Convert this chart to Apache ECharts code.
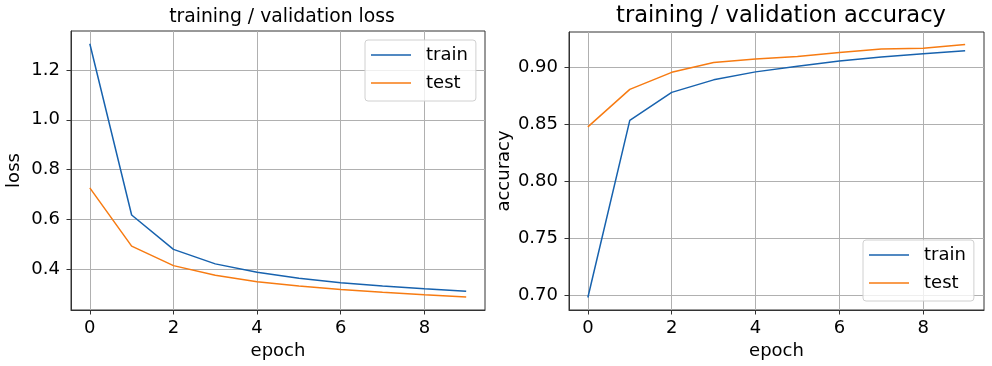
<!DOCTYPE html>
<html>
<head>
<meta charset="utf-8">
<script src="https://cdn.jsdelivr.net/npm/echarts@6/dist/echarts.min.js"></script>
<style>
html,body{margin:0;padding:0;background:#fff;}
#chart{width:992px;height:366px;}
</style>
</head>
<body>
<div id="chart"></div>
<script>
// ---- data ----
const epochs = [0, 1, 2, 3, 4, 5, 6, 7, 8, 9];
const lossTrain = [1.305, 0.618, 0.480, 0.422, 0.388, 0.364, 0.346, 0.333, 0.322, 0.312];
const lossTest  = [0.727, 0.493, 0.415, 0.376, 0.350, 0.333, 0.319, 0.308, 0.298, 0.289];
const accTrain  = [0.698, 0.8535, 0.878, 0.889, 0.896, 0.901, 0.9055, 0.909, 0.912, 0.9145];
const accTest   = [0.8477, 0.8806, 0.8956, 0.9043, 0.9073, 0.9095, 0.913, 0.916, 0.9168, 0.920];
const xTicks = [0, 2, 4, 6, 8];
const lossTicks = [0.4, 0.6, 0.8, 1.0, 1.2];
const accTicks = [0.70, 0.75, 0.80, 0.85, 0.90];
const legendNames = ['train', 'test'];
const titles = ['training / validation loss', 'training / validation accuracy'];

// ---- styles ----
const FONT = 'DejaVu Sans';
const BLUE = '#1762ae';
const ORANGE = '#f77b12';
const SPINE = '#333333';
const GRIDC = '#b0b0b0';
const FS = 18;

function pairs(xs, ys) { return xs.map((x, i) => [x, ys[i]]); }

function xAxisDef(gridIndex) {
  return {
    type: 'value', gridIndex: gridIndex, min: -0.45, max: 9.45,
    name: 'epoch', nameLocation: 'middle', nameGap: 31,
    nameTextStyle: { fontFamily: FONT, fontSize: FS, color: '#000' },
    axisLine: { show: true, onZero: false, lineStyle: { color: SPINE, width: 1 } },
    axisTick: { show: true, length: 4.5, customValues: xTicks, lineStyle: { color: SPINE, width: 1 } },
    axisLabel: { customValues: xTicks, margin: 9, fontFamily: FONT, fontSize: FS, color: '#000',
      formatter: v => String(Math.round(v)) },
    splitLine: { show: true, lineStyle: { color: GRIDC, width: 1 } }
  };
}
function yAxisDef(gridIndex, name, min, max, ticks, dec, gap) {
  return {
    type: 'value', gridIndex: gridIndex, min: min, max: max,
    name: name, nameLocation: 'middle', nameGap: gap, nameRotate: 90,
    nameTextStyle: { fontFamily: FONT, fontSize: FS, color: '#000' },
    axisLine: { show: true, onZero: false, lineStyle: { color: SPINE, width: 1 } },
    axisTick: { show: true, length: 4.5, customValues: ticks, lineStyle: { color: SPINE, width: 1 } },
    axisLabel: { customValues: ticks, margin: 11, fontFamily: FONT, fontSize: FS, color: '#000',
      formatter: v => v.toFixed(dec) },
    splitLine: { show: true, lineStyle: { color: GRIDC, width: 1 } }
  };
}
function lineSeries(name, color, xi, yi, data) {
  return {
    type: 'line', name: name, xAxisIndex: xi, yAxisIndex: yi, data: data,
    symbol: 'none', showSymbol: false, smooth: false,
    lineStyle: { color: color, width: 1.5 }, itemStyle: { color: color },
    emphasis: { disabled: true }
  };
}
function legendDef(left, top) {
  return {
    left: left, top: top, orient: 'vertical',
    data: legendNames,
    icon: 'rect', itemWidth: 40, itemHeight: 1.5, itemGap: 8,
    padding: [5, 8, 8, 6],
    backgroundColor: 'rgba(255,255,255,0.8)',
    borderColor: '#d0d0d0', borderWidth: 1, borderRadius: 3,
    textStyle: { fontFamily: FONT, fontSize: FS, color: '#000', lineHeight: 20, padding: [0, 0, 0, 10] },
    selectedMode: false
  };
}

const option = {
  animation: false,
  backgroundColor: '#ffffff',
  title: [
    { text: titles[0], left: 277, top: 3, textAlign: 'center',
      textStyle: { fontFamily: FONT, fontSize: 18.8, fontWeight: 'normal', color: '#000' } },
    { text: titles[1], left: 776, top: 0, textAlign: 'center',
      textStyle: { fontFamily: FONT, fontSize: 22.6, fontWeight: 'normal', color: '#000' } }
  ],
  grid: [
    { left: 71, top: 31, width: 414, height: 279, show: true, borderColor: SPINE, borderWidth: 1, backgroundColor: 'transparent' },
    { left: 569, top: 32, width: 415, height: 278, show: true, borderColor: SPINE, borderWidth: 1, backgroundColor: 'transparent' }
  ],
  legend: [legendDef(365, 40), legendDef(863, 240)],
  xAxis: [xAxisDef(0), xAxisDef(1)],
  yAxis: [
    yAxisDef(0, 'loss', 0.237, 1.356, lossTicks, 1, 48),
    yAxisDef(1, 'accuracy', 0.687, 0.931, accTicks, 2, 56)
  ],
  series: [
    lineSeries('train', BLUE, 0, 0, pairs(epochs, lossTrain)),
    lineSeries('test', ORANGE, 0, 0, pairs(epochs, lossTest)),
    lineSeries('train', BLUE, 1, 1, pairs(epochs, accTrain)),
    lineSeries('test', ORANGE, 1, 1, pairs(epochs, accTest))
  ]
};

const chart = echarts.init(document.getElementById('chart'), null, { renderer: 'canvas' });
chart.setOption(option);
</script>
</body>
</html>
